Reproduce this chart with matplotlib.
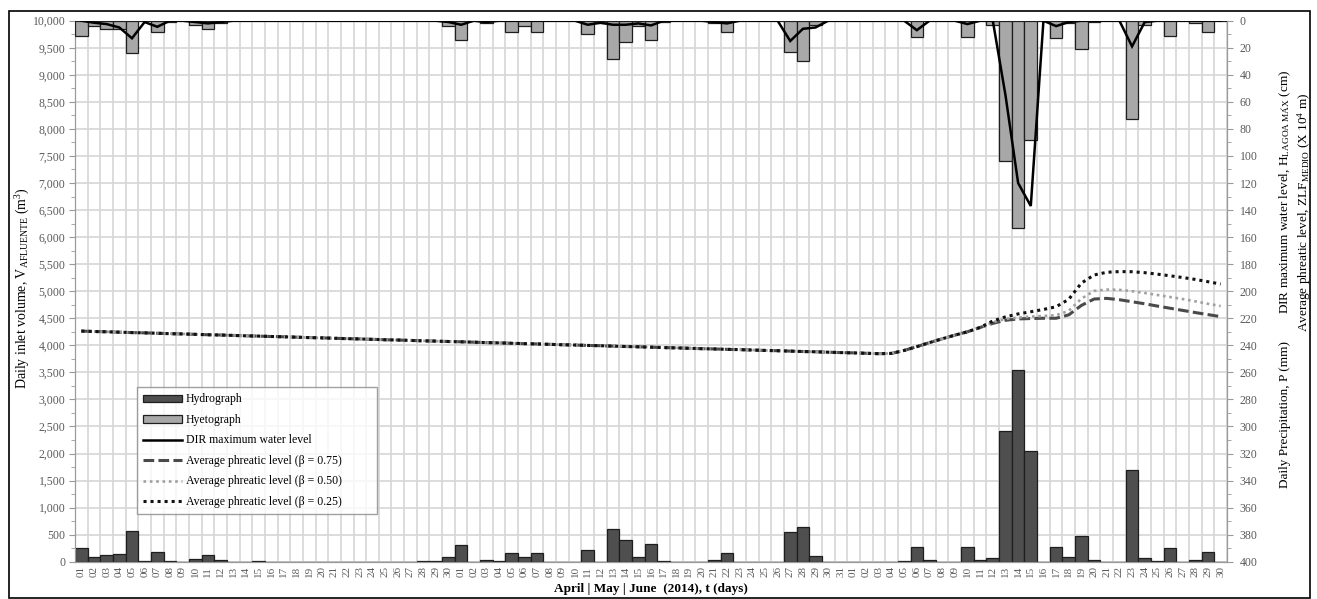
import numpy as np
import matplotlib
matplotlib.use("Agg")
import matplotlib.pyplot as plt
from matplotlib.patches import Rectangle, Patch
from matplotlib.lines import Line2D
from matplotlib.ticker import MultipleLocator, FuncFormatter, FixedLocator

plt.rcParams['font.family'] = ['Liberation Serif', 'DejaVu Serif']
plt.rcParams['mathtext.fontset'] = 'custom'
plt.rcParams['mathtext.rm'] = 'Liberation Serif'
plt.rcParams['mathtext.it'] = 'Liberation Serif:italic'
plt.rcParams['mathtext.bf'] = 'Liberation Serif:bold'

# ---- day labels: April (30) | May (31) | June (30), 2014 ----
april_days = [f"{d:02d}" for d in range(1, 31)]
may_days = [f"{d:02d}" for d in range(1, 32)]
june_days = [f"{d:02d}" for d in range(1, 31)]
day_labels = april_days + may_days + june_days

# ---- Hydrograph: daily inlet volume (m3) ----
inlet_april = [250, 90, 120, 140, 560, 10, 180, 10, 0, 50, 120, 40, 0, 0, 10,
               0, 0, 0, 0, 0, 0, 0, 0, 0, 0, 0, 0, 10, 10, 80]
inlet_may = [310, 0, 25, 10, 160, 80, 160, 0, 0, 0, 220, 0, 600, 400, 80, 320,
             10, 0, 0, 0, 40, 160, 0, 0, 0, 0, 540, 640, 100, 0, 0]
inlet_june = [0, 0, 0, 0, 10, 270, 25, 0, 0, 270, 25, 70, 2420, 3540, 2040, 0,
              280, 80, 480, 25, 0, 0, 1700, 60, 10, 250, 0, 40, 180, 0]

# ---- Hyetograph: daily precipitation (mm) ----
rain_april = [11, 4, 6, 6, 24, 0, 8, 1, 0, 3, 6, 2, 0, 0, 0,
              0, 0, 0, 0, 0, 0, 0, 0, 0, 0, 0, 0, 0, 0, 4]
rain_may = [14, 0, 2, 0, 8, 4, 8, 0, 0, 0, 10, 2, 28, 16, 4, 14,
            1, 0, 0, 0, 2, 8, 0, 0, 0, 0, 23, 30, 3, 0, 0]
rain_june = [0, 0, 0, 0, 0, 12, 0, 0, 0, 12, 0, 3, 104, 153, 88, 0,
             13, 2, 21, 1, 0, 0, 73, 3, 0, 11, 0, 2, 8, 0]

# ---- DIR maximum water level (cm) ----
dir_april = [0, 1.5, 2.5, 5, 13, 1, 4.5, 0, 0, 1, 2, 1, 0, 0, 0,
             0, 0, 0, 0, 0, 0, 0, 0, 0, 0, 0, 0, 0, 0, 1]
dir_may = [3, 0, 1, 0, 0, 0, 0, 0, 0, 0, 3, 1.5, 3, 3, 2, 3.5,
           0, 0, 0, 0, 1, 2, 0, 0, 0, 0, 15, 6, 5, 0, 0]
dir_june = [0, 0, 0, 0, 0, 7, 0, 0, 0, 2.5, 0, 0, 55, 120, 137, 0,
            4, 1, 0, 0, 0, 0, 19, 1, 0, 0, 0, 0, 0, 0]

# ---- Average phreatic level (shared until mid-June, then per beta) ----
zlf_april = [229.5, 229.8, 230.0, 230.3, 230.6, 230.8, 231.1, 231.4, 231.6, 231.9,
             232.2, 232.4, 232.7, 233.0, 233.2, 233.5, 233.7, 234.0, 234.3, 234.5,
             234.8, 235.1, 235.3, 235.6, 235.9, 236.1, 236.4, 236.7, 236.9, 237.2]
zlf_may = [237.4, 237.7, 238.0, 238.2, 238.5, 238.8, 239.0, 239.3, 239.6, 239.8,
           240.1, 240.3, 240.6, 240.9, 241.1, 241.4, 241.7, 241.9, 242.2, 242.5,
           242.7, 243.0, 243.2, 243.5, 243.8, 244.0, 244.3, 244.6, 244.8, 245.1, 245.4]
zlf_june_075 = [245.6, 245.9, 246.2, 246.0, 243.8, 241.0, 238.0, 235.2, 232.5, 230.0,
                226.8, 223.8, 221.5, 220.5, 220.2, 220.0, 220.0, 217.5, 210.5, 205.8,
                205.3, 206.3, 207.8, 209.3, 211.0, 212.6, 214.2, 215.8, 217.3, 218.8]
zlf_june_050 = [245.6, 245.9, 246.2, 246.0, 243.8, 241.0, 238.0, 235.2, 232.5, 230.0,
                226.8, 223.0, 220.5, 219.5, 218.8, 218.3, 217.8, 214.5, 205.5, 199.8,
                198.8, 199.0, 200.0, 201.3, 202.8, 204.3, 205.8, 207.5, 209.3, 211.0]
zlf_june_025 = [245.6, 245.9, 246.2, 246.0, 243.8, 241.0, 238.0, 235.2, 232.5, 230.0,
                226.8, 222.0, 219.0, 216.8, 215.2, 213.5, 211.5, 206.0, 194.0, 188.0,
                186.0, 185.5, 185.6, 186.3, 187.4, 188.6, 189.9, 191.3, 193.0, 194.7]

inlet = np.array(inlet_april + inlet_may + inlet_june, dtype=float)
rain = np.array(rain_april + rain_may + rain_june, dtype=float)
dir_level = np.array(dir_april + dir_may + dir_june, dtype=float)
zlf_075 = np.array(zlf_april + zlf_may + zlf_june_075)
zlf_050 = np.array(zlf_april + zlf_may + zlf_june_050)
zlf_025 = np.array(zlf_april + zlf_may + zlf_june_025)
x = np.arange(len(day_labels))

# ---- styling ----
grid_col = '#d6d6d6'
tick_col = '#5a5a5a'
hydro_col = '#4f4f4f'
hyeto_col = '#a8a8a8'

W, H = 1317, 599
fig = plt.figure(figsize=(W / 100, H / 100), dpi=100)
ax = fig.add_axes([75 / W, 37.3 / H, 1152 / W, 541 / H])

# Hydrograph bars (left axis)
ax.bar(x, inlet, width=1.0, color=hydro_col, edgecolor='#1e1e1e', linewidth=0.9, zorder=3)
ax.set_xlim(-0.5, len(x) - 0.5)
ax.set_ylim(0, 10000)
ax.yaxis.set_major_locator(MultipleLocator(500))
ax.yaxis.set_minor_locator(MultipleLocator(250))
ax.yaxis.set_major_formatter(FuncFormatter(lambda v, p: f"{int(v):,}"))
ax.set_xticks(x)
ax.set_xticklabels(day_labels, rotation=90, fontsize=8, color=tick_col)
ax.xaxis.set_minor_locator(FixedLocator(np.arange(-0.5, len(x), 1.0)))
ax.tick_params(axis='x', which='both', length=0, pad=3)
ax.tick_params(axis='y', which='major', length=4, color='#999999', labelsize=8.5,
               labelcolor=tick_col, pad=3)
ax.tick_params(axis='y', which='minor', length=3, color='#999999')
ax.grid(True, which='major', axis='y', color=grid_col, linewidth=1.2, zorder=0)
ax.grid(True, which='minor', axis='x', color=grid_col, linewidth=1.2, zorder=0)
ax.set_axisbelow(True)
for side in ['left', 'right', 'bottom']:
    ax.spines[side].set_color('#9a9a9a')
ax.spines['top'].set_color(grid_col)

ax.set_ylabel(r"Daily inlet volume, V$_{\mathrm{AFLUENTE}}$ (m$^{3}$)", fontsize=10)
ax.yaxis.set_label_coords(-0.037, 0.505)
ax.set_xlabel("April | May | June  (2014), t (days)", fontsize=9.5, fontweight='bold',
              labelpad=4)

# Right axis: precipitation / water level / phreatic level, inverted
ax2 = ax.twinx()
ax2.set_ylim(400, 0)
ax2.bar(x, rain, width=1.0, color=hyeto_col, edgecolor='#1e1e1e', linewidth=0.9, zorder=3)
ax2.plot(x, dir_level, color='black', linewidth=1.8, zorder=5, solid_joinstyle='miter')
ax2.plot(x, zlf_075, color='#4a4a4a', linewidth=2.2, linestyle=(0, (3.5, 1.4)), zorder=4)
ax2.plot(x, zlf_050, color='#a0a0a0', linewidth=1.9, linestyle=(0, (1, 1.4)), zorder=4)
ax2.plot(x, zlf_025, color='#111111', linewidth=2.2, linestyle=(0, (1, 1.3)), zorder=4)
ax2.yaxis.set_major_locator(MultipleLocator(20))
ax2.yaxis.set_minor_locator(MultipleLocator(10))
ax2.tick_params(axis='y', which='major', length=4, color='#999999', labelsize=8.5,
                labelcolor=tick_col, pad=5)
ax2.tick_params(axis='y', which='minor', length=3, color='#999999')
for side in ['left', 'right', 'bottom']:
    ax2.spines[side].set_color('#9a9a9a')
ax2.spines['top'].set_visible(False)

# Right-hand axis titles
fig.text(1285 / W, 1 - 192 / H, r"DIR maximum water level, H$_{\mathrm{LAGOA\ M\acute{A}X}}$ (cm)",
         rotation=90, ha='center', va='center', fontsize=9.5)
fig.text(1285 / W, 1 - 414 / H, "Daily Precipitation, P (mm)",
         rotation=90, ha='center', va='center', fontsize=9.5)
fig.text(1304 / W, 1 - 212 / H, r"Average phreatic level, ZLF$_{\mathrm{MEDIO}}$ (X 10$^{4}$ m)",
         rotation=90, ha='center', va='center', fontsize=9.5)

# Legend
handles = [
    Patch(facecolor=hydro_col, edgecolor='#1e1e1e', linewidth=0.9),
    Patch(facecolor=hyeto_col, edgecolor='#1e1e1e', linewidth=0.9),
    Line2D([], [], color='black', linewidth=1.8),
    Line2D([], [], color='#4a4a4a', linewidth=2.2, linestyle=(0, (3.5, 1.4))),
    Line2D([], [], color='#a0a0a0', linewidth=1.9, linestyle=(0, (1, 1.4))),
    Line2D([], [], color='#111111', linewidth=2.2, linestyle=(0, (1, 1.3))),
]
labels = ["Hydrograph", "Hyetograph", "DIR maximum water level",
          "Average phreatic level (\u03b2 = 0.75)",
          "Average phreatic level (\u03b2 = 0.50)",
          "Average phreatic level (\u03b2 = 0.25)"]
leg_x0 = (137 - 75) / 1152
leg_top = (561.7 - 387) / 541
leg_w = 240 / 1152
leg_h = 130 / 541
leg = ax2.legend(handles, labels, loc='upper left',
                 bbox_to_anchor=(leg_x0, leg_top - leg_h, leg_w, leg_h), mode='expand',
                 borderaxespad=0, fontsize=8.5, frameon=True, fancybox=False,
                 handlelength=3.3, handleheight=0.6, labelspacing=0.72,
                 borderpad=0.55, handletextpad=0.3)
leg.get_frame().set_edgecolor('#8a8a8a')
leg.get_frame().set_linewidth(1.0)
leg.set_zorder(10)

# Outer frame around the figure
fig.patches.append(Rectangle((9 / W, 1 / H), 1301 / W, 587 / H, transform=fig.transFigure,
                             fill=False, edgecolor='black', linewidth=1.2))

fig.savefig("out.png", dpi=100)
